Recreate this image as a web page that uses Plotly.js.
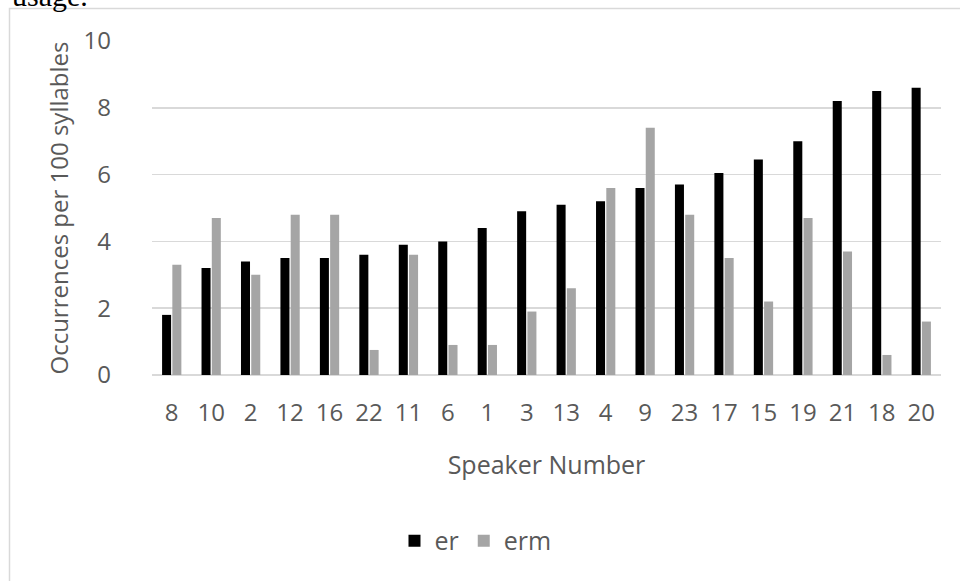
<!DOCTYPE html>
<html>
<head>
<meta charset="utf-8">
<script src="https://cdn.plot.ly/plotly-3.0.1.min.js"></script>
<style>
html,body{margin:0;padding:0;background:#fff;}
#chart{width:960px;height:581px;}
</style>
</head>
<body>
<div id="chart"></div>
<script>
const speakers = ["8","10","2","12","16","22","11","6","1","3","13","4","9","23","17","15","19","21","18","20"];
const erValues = [1.8,3.2,3.4,3.5,3.5,3.6,3.9,4.0,4.4,4.9,5.1,5.2,5.6,5.7,6.05,6.45,7.0,8.2,8.5,8.6];
const ermValues = [3.3,4.7,3.0,4.8,4.8,0.75,3.6,0.9,0.9,1.9,2.6,5.6,7.4,4.8,3.5,2.2,4.7,3.7,0.6,1.6];
const seriesNames = ["er","erm"];
const yTicks = [0,2,4,6,8,10];

const font = "'Open Sans', Lato, sans-serif";
const grey = "#595959";

const traces = [
  {type:"bar", name:seriesNames[0], x:speakers, y:erValues, marker:{color:"#000000"}},
  {type:"bar", name:seriesNames[1], x:speakers, y:ermValues, marker:{color:"#a5a5a5"}}
];

const layout = {
  width:960, height:581,
  margin:{l:152, r:19, t:41, b:206, pad:0},
  paper_bgcolor:"#ffffff", plot_bgcolor:"#ffffff",
  barmode:"group", bargap:0.48, bargroupgap:0.12,
  font:{family:font, color:grey, size:24},
  showlegend:true,
  legend:{orientation:"h", x:0.41, xanchor:"center", y:-0.497, yanchor:"middle",
          font:{family:font, size:25, color:grey}, itemwidth:30, tracegroupgap:0},
  xaxis:{type:"category", showgrid:false, zeroline:false, showline:false, ticks:"",
         tickfont:{family:font, size:24, color:grey}, ticklabelstandoff:21,
         title:{text:"Speaker Number", font:{family:font, size:25, color:grey}, standoff:29}, automargin:false},
  yaxis:{range:[0,10], tickvals:yTicks, showgrid:true, gridcolor:"#d9d9d9", gridwidth:1.5,
         zeroline:true, zerolinecolor:"#d9d9d9", zerolinewidth:1.5, showline:false, ticks:"",
         tickfont:{family:font, size:24, color:grey}, ticklabelstandoff:40,
         title:{text:"Occurrences per 100 syllables", font:{family:font, size:24, color:grey}, standoff:8}, automargin:false},
  shapes:[
    {type:"rect", xref:"paper", yref:"paper", x0:(9.5-152)/789, x1:(980-152)/789, y0:(375-600)/334, y1:(375-8.5)/334,
     line:{color:"#d9d9d9", width:1.5}, fillcolor:"rgba(0,0,0,0)", layer:"below"}
  ],
  annotations:[
    {text:"usage.", xref:"paper", yref:"paper", x:(10-152)/789, y:(375-14)/334, xanchor:"left", yanchor:"bottom",
     showarrow:false, font:{family:"'Liberation Serif', 'Times New Roman', serif", size:30, color:"#000000"}}
  ]
};

Plotly.newPlot("chart", traces, layout, {displayModeBar:false, staticPlot:true});
</script>
</body>
</html>
